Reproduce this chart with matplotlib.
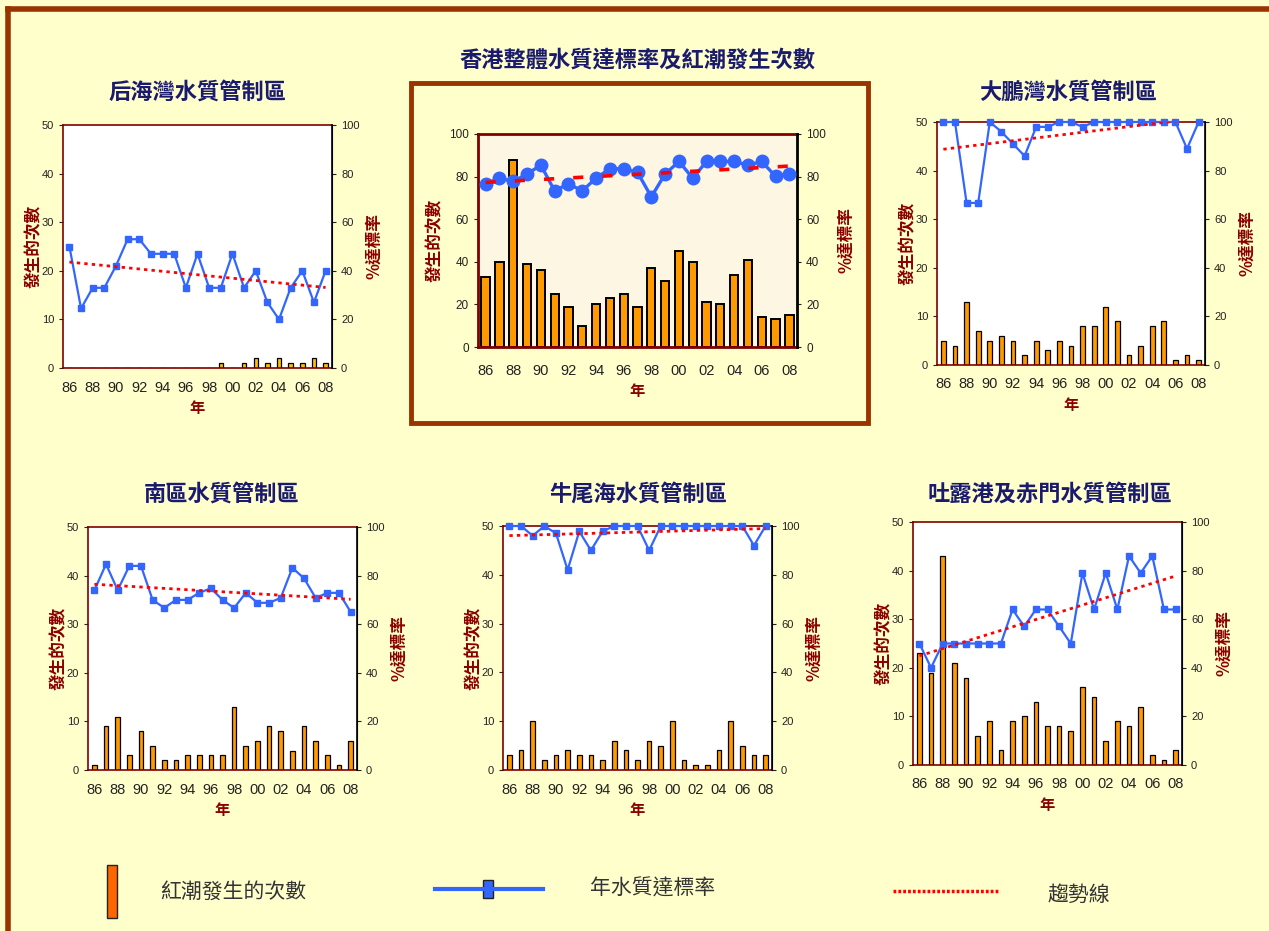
import numpy as np
import matplotlib.pyplot as plt
from matplotlib.patches import Rectangle
from matplotlib.lines import Line2D

plt.rcParams['font.family'] = ['Noto Sans CJK TC', 'DejaVu Sans']

W, H = 1269, 931

years = ['86', '87', '88', '89', '90', '91', '92', '93', '94', '95', '96', '97',
         '98', '99', '00', '01', '02', '03', '04', '05', '06', '07', '08']

# 香港整體
hk_counts = [33, 40, 88, 39, 36, 25, 19, 10, 20, 23, 25, 19, 37, 31, 45, 40, 21, 20, 34, 41, 14, 13, 15]
hk_rate = [76.6, 79.3, 77.7, 81.2, 85.4, 73.3, 76.6, 73.3, 79.3, 83.7, 83.7, 82.0,
           70.5, 81.2, 87.1, 79.3, 87.1, 87.1, 87.1, 85.4, 87.1, 80.1, 81.2]

# 后海灣
deep_counts = [0, 0, 0, 0, 0, 0, 0, 0, 0, 0, 0, 0, 0, 1, 0, 1, 2, 1, 2, 1, 1, 2, 1]
deep_rate = [50, 24.5, 33, 33, 42, 53, 53, 47, 47, 47, 33, 47, 33, 33, 47, 33, 40, 27, 20, 33, 40, 27, 40]

# 大鵬灣
mirs_counts = [5, 4, 13, 7, 5, 6, 5, 2, 5, 3, 5, 4, 8, 8, 12, 9, 2, 4, 8, 9, 1, 2, 1]
mirs_rate = [100, 100, 66.7, 66.7, 100, 96, 91, 86, 98, 98, 100, 100, 98, 100, 100, 100,
             100, 100, 100, 100, 100, 89, 100]

# 南區
south_counts = [1, 9, 11, 3, 8, 5, 2, 2, 3, 3, 3, 3, 13, 5, 6, 9, 8, 4, 9, 6, 3, 1, 6]
south_rate = [74, 84.7, 74, 84, 84, 70, 66.7, 70, 70, 72.9, 74.8, 70, 66.7, 72.9, 68.8,
              68.8, 70.8, 83.2, 78.9, 70.8, 72.9, 72.9, 65.1]

# 牛尾海
port_counts = [3, 4, 10, 2, 3, 4, 3, 3, 2, 6, 4, 2, 6, 5, 10, 2, 1, 1, 4, 10, 5, 3, 3]
port_rate = [100, 100, 96, 100, 97, 82, 97.8, 90, 97.8, 100, 100, 100, 90, 100, 100, 100,
             100, 100, 100, 100, 100, 92, 100]

# 吐露港及赤門
tolo_counts = [23, 19, 43, 21, 18, 6, 9, 3, 9, 10, 13, 8, 8, 7, 16, 14, 5, 9, 8, 12, 2, 1, 3]
tolo_rate = [50, 40, 50, 50, 50, 50, 50, 50, 64, 57, 64, 64, 57, 50, 79, 64, 79, 64, 86,
             79, 86, 64, 64]

BG = '#FFFFCC'
MAROON = '#800000'
NAVY = '#1A1A6E'
LABEL_RED = '#8B0000'
BLUE = '#3366FF'
NUM_FONT = ['Liberation Sans', 'DejaVu Sans']

fig = plt.figure(figsize=(W / 100, H / 100), dpi=100, facecolor=BG)


def fx(x):
    return x / W


def fy(y):
    return 1 - y / H


def px_axes(x0, y0, x1, y1):
    return [fx(x0), fy(y1), (x1 - x0) / W, (y1 - y0) / H]


def draw_panel(box, counts, rate, cmax, big=False, bar_color='#FF9900', bar_w=0.4):
    ax = fig.add_axes(px_axes(*box))
    x = np.arange(len(years))
    ax.set_facecolor('#FDF6E3' if big else 'white')
    ax.bar(x, counts, width=bar_w, color=bar_color, edgecolor='black',
           linewidth=1.4 if big else 0.9, zorder=2)
    ax.set_xlim(-0.55, len(years) - 0.45)
    ax.set_ylim(0, cmax)
    ax.set_yticks(np.linspace(0, cmax, 6))
    ax.set_xticks(x[::2])
    ax.set_xticklabels(years[::2], family=NUM_FONT, fontsize=10.5, color='#222222')
    ax.tick_params(axis='x', length=0, pad=12 if big else 9)
    ax.tick_params(axis='y', length=3, labelsize=8.5 if big else 8, colors='#222222',
                   labelfontfamily='Liberation Sans')
    for s in ['left', 'bottom', 'top']:
        ax.spines[s].set_color(MAROON)
        ax.spines[s].set_linewidth(2 if big else 1.2)
    ax.set_ylabel('發生的次數', color=LABEL_RED, fontsize=12, fontweight='bold',
                  labelpad=4 if big else -1)
    ax.set_xlabel('年', color=LABEL_RED, fontsize=11, fontweight='bold', labelpad=4)

    ax2 = ax.twinx()
    ax2.set_ylim(0, 100)
    ax2.set_yticks(np.arange(0, 101, 20))
    ax2.tick_params(axis='y', length=3, labelsize=8.5 if big else 8, colors='#222222',
                    labelfontfamily='Liberation Sans')
    for s in ['left', 'bottom', 'top']:
        ax2.spines[s].set_visible(False)
    ax2.spines['right'].set_color('black')
    ax2.spines['right'].set_linewidth(2 if big else 1.2)
    ax2.set_ylabel('%達標率', color=LABEL_RED, fontsize=12, fontweight='bold',
                   rotation=90, labelpad=8 if big else 4)

    fit = np.polyfit(x, rate, 1)
    trend = np.polyval(fit, x)
    if big:
        ax2.plot(x, rate, color=BLUE, lw=2.4, marker='o', markersize=9,
                 markeredgecolor=BLUE, zorder=3, clip_on=False)
        ax2.plot(x, trend, color='#FF0000', lw=2.6, ls=(0, (2.8, 5.3)), zorder=4)
    else:
        ax2.plot(x, rate, color=BLUE, lw=1.6, marker='s', markersize=5,
                 zorder=3, clip_on=False)
        ax2.plot(x, trend, color='#FF0000', lw=2, ls=(0, (1.2, 1.5)), zorder=4)
    return ax, ax2


# 外框
fig.add_artist(Line2D([fx(8), fx(8)], [fy(9), 0], color='#993300', lw=4))
fig.add_artist(Line2D([fx(8), 1], [fy(9), fy(9)], color='#993300', lw=4))

# 中間面板框
fig.add_artist(Rectangle((fx(411), fy(423)), (868 - 411) / W, (423 - 83) / H,
                         transform=fig.transFigure, facecolor=BG,
                         edgecolor='#993300', lw=3.5, zorder=-1))

draw_panel((63, 125, 332, 368), deep_counts, deep_rate, 50, bar_color='#FFC000', bar_w=0.38)
draw_panel((478, 134, 797, 347), hk_counts, hk_rate, 100, big=True, bar_w=0.6)
draw_panel((937, 122, 1205, 365), mirs_counts, mirs_rate, 50)
draw_panel((88, 527, 357, 770), south_counts, south_rate, 50)
draw_panel((503, 526, 772, 770), port_counts, port_rate, 50)
draw_panel((913, 522, 1182, 765), tolo_counts, tolo_rate, 50)

titles = [
    ('后海灣水質管制區', 197, 92),
    ('香港整體水質達標率及紅潮發生次數', 638, 60),
    ('大鵬灣水質管制區', 1068, 92),
    ('南區水質管制區', 222, 494),
    ('牛尾海水質管制區', 638, 494),
    ('吐露港及赤門水質管制區', 1050, 494),
]
for t, x0, y0 in titles:
    fig.text(fx(x0), fy(y0), t, ha='center', va='center', fontsize=16,
             fontweight='bold', color=NAVY)

# 圖例
fig.add_artist(Rectangle((fx(107), fy(918)), 10 / W, 53 / H, transform=fig.transFigure,
                         facecolor='#FF6600', edgecolor='#222222', lw=1))
fig.text(fx(160), fy(892), '紅潮發生的次數', ha='left', va='center', fontsize=15,
         color='#333333')
fig.add_artist(Line2D([fx(435), fx(543)], [fy(889), fy(889)], color=BLUE, lw=3))
fig.add_artist(Rectangle((fx(483), fy(898)), 10 / W, 18 / H, transform=fig.transFigure,
                         facecolor=BLUE, edgecolor='#222222', lw=1))
fig.text(fx(590), fy(889), '年水質達標率', ha='left', va='center', fontsize=15,
         color='#333333')
fig.add_artist(Line2D([fx(893), fx(1000)], [fy(891), fy(891)], color='#FF0000', lw=2.5,
                      ls=(0, (0.8, 0.6))))
fig.text(fx(1048), fy(895), '趨勢線', ha='left', va='center', fontsize=15,
         color='#333333')

fig.savefig('out.png', dpi=100, facecolor=BG)
